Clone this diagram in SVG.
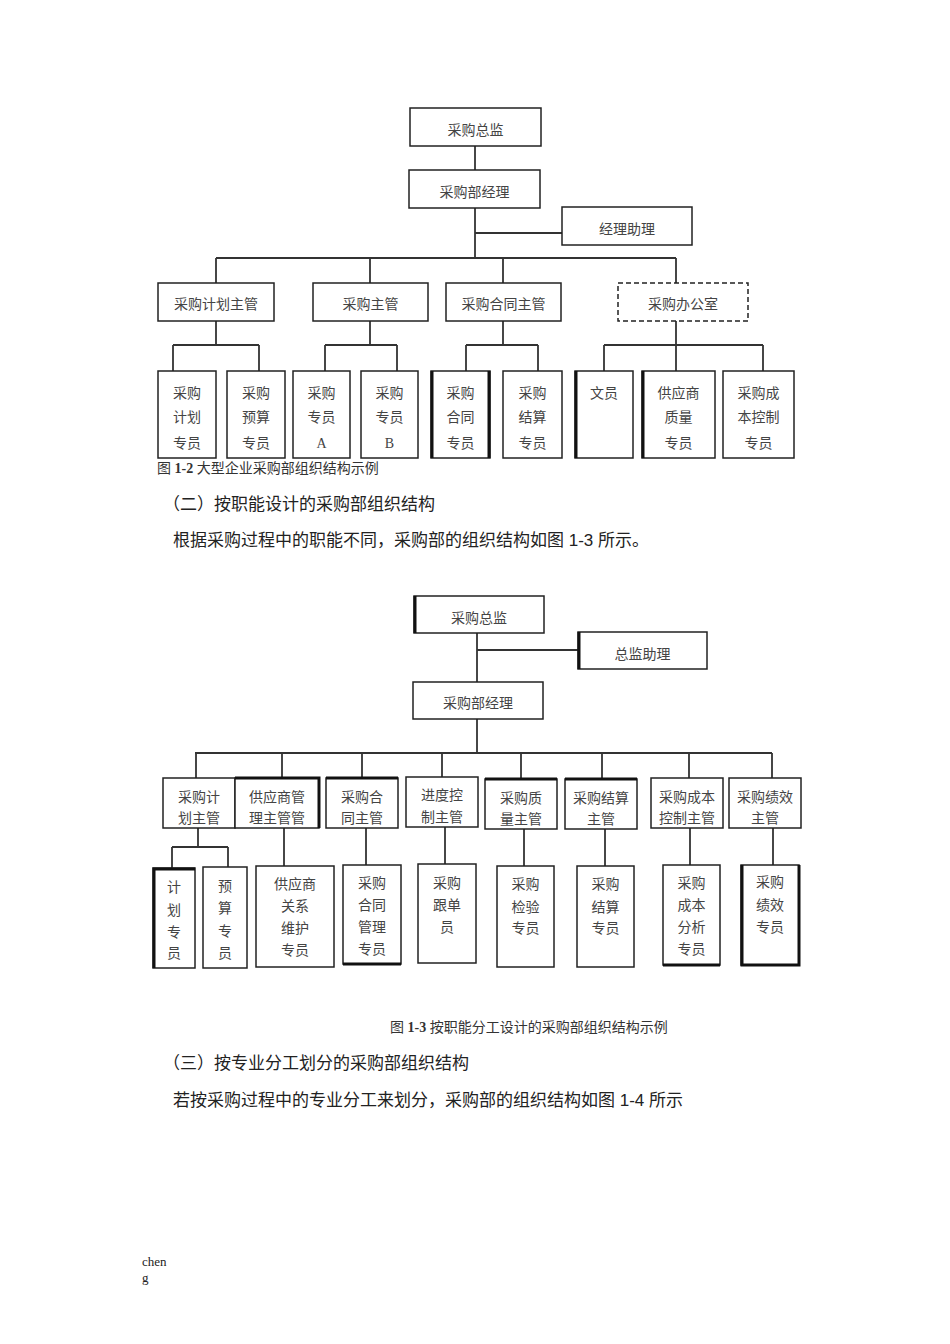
<svg xmlns="http://www.w3.org/2000/svg" width="950" height="1344" viewBox="0 0 950 1344">
<style>
.bg{fill:#fff}
.box{fill:#fff;stroke:#222;stroke-width:1.5}
.dash{fill:#fff;stroke:#222;stroke-width:1.5;stroke-dasharray:5,3}
.thk{stroke:#111;stroke-width:3;fill:none}
.conn path{stroke:#333;stroke-width:1.8;fill:none}
.t{font-family:"Liberation Serif","Noto Sans CJK SC",serif;font-size:14px;fill:#444;text-anchor:middle}
.cap{font-family:"Liberation Serif","Noto Sans CJK SC",serif;font-size:14px;fill:#333}
.body{font-family:"Liberation Sans","Noto Sans CJK SC",sans-serif;font-size:17px;fill:#222}
.foot{font-family:"Liberation Serif",serif;font-size:13px;fill:#222}
</style>
<rect class="bg" x="0" y="0" width="950" height="1344"/>

<!-- ===== Chart 1-2 ===== -->
<g id="connectors1" class="conn">
<path d="M475 146V170"/>
<path d="M475 208V258"/>
<path d="M475 233H562"/>
<path d="M216 258H676"/>
<path d="M216 258V283M370 258V283M503 258V283M676 258V283"/>
<path d="M216 321V345M173 345H259M173 345V371M259 345V371"/>
<path d="M370 321V345M325 345H397M325 345V371M397 345V371"/>
<path d="M503 321V345M466 345H538M466 345V371M538 345V371"/>
<path d="M676 321V371M604 345H763M604 345V371M763 345V371"/>
</g>
<g id="n1_zongjian"><rect class="box" x="410" y="108" width="131" height="38"/><text class="t" x="475.5" y="135">采购总监</text></g>
<g id="n1_jingli"><rect class="box" x="409" y="170" width="131" height="38"/><text class="t" x="474.5" y="197">采购部经理</text></g>
<g id="n1_zhuli"><rect class="box" x="562" y="207" width="130" height="38"/><text class="t" x="627" y="234">经理助理</text></g>
<g id="n1_jihua"><rect class="box" x="158" y="283" width="116" height="38"/><text class="t" x="216" y="309">采购计划主管</text></g>
<g id="n1_zhuguan"><rect class="box" x="313" y="283" width="115" height="38"/><text class="t" x="370.5" y="309">采购主管</text></g>
<g id="n1_hetong"><rect class="box" x="446" y="283" width="115" height="38"/><text class="t" x="503.5" y="309">采购合同主管</text></g>
<g id="n1_bangongshi"><rect class="dash" x="618" y="283" width="130" height="38"/><text class="t" x="683" y="309">采购办公室</text></g>

<g id="n1_jihuazy"><rect class="box" x="158" y="371" width="58" height="87"/><text class="t" x="187" y="398">采购</text><text class="t" x="187" y="422">计划</text><text class="t" x="187" y="448">专员</text></g>
<g id="n1_yusuanzy"><rect class="box" x="227" y="371" width="58" height="87"/><text class="t" x="256" y="398">采购</text><text class="t" x="256" y="422">预算</text><text class="t" x="256" y="448">专员</text></g>
<g id="n1_zyA"><rect class="box" x="293" y="371" width="57" height="87"/><text class="t" x="321.5" y="398">采购</text><text class="t" x="321.5" y="422">专员</text><text class="t" x="321.5" y="448">A</text></g>
<g id="n1_zyB"><rect class="box" x="361" y="371" width="57" height="87"/><text class="t" x="389.5" y="398">采购</text><text class="t" x="389.5" y="422">专员</text><text class="t" x="389.5" y="448">B</text></g>
<g id="n1_hetongzy"><rect class="box" x="431" y="371" width="59" height="87"/><path class="thk" d="M432 371V458M489 371V458"/><text class="t" x="460.5" y="398">采购</text><text class="t" x="460.5" y="422">合同</text><text class="t" x="460.5" y="448">专员</text></g>
<g id="n1_jiesuanzy"><rect class="box" x="503" y="371" width="59" height="87"/><text class="t" x="532.5" y="398">采购</text><text class="t" x="532.5" y="422">结算</text><text class="t" x="532.5" y="448">专员</text></g>
<g id="n1_wenyuan"><rect class="box" x="575" y="371" width="58" height="87"/><path class="thk" d="M576 371V458"/><text class="t" x="604" y="398">文员</text></g>
<g id="n1_zhiliang"><rect class="box" x="642" y="371" width="73" height="87"/><path class="thk" d="M643 371V458"/><text class="t" x="678.5" y="398">供应商</text><text class="t" x="678.5" y="422">质量</text><text class="t" x="678.5" y="448">专员</text></g>
<g id="n1_chengben"><rect class="box" x="723" y="371" width="71" height="87"/><text class="t" x="758.5" y="398">采购成</text><text class="t" x="758.5" y="422">本控制</text><text class="t" x="758.5" y="448">专员</text></g>

<text class="cap" x="157" y="473">图 <tspan font-weight="bold">1-2</tspan> 大型企业采购部组织结构示例</text>

<text class="body" x="163" y="510">（二）按职能设计的采购部组织结构</text>
<text class="body" x="173" y="546">根据采购过程中的职能不同，采购部的组织结构如图 1-3 所示。</text>

<!-- ===== Chart 1-3 ===== -->
<g id="connectors2" class="conn">
<path d="M477 633V682"/>
<path d="M477 650H578"/>
<path d="M477 719V753"/>
<path d="M195 753H772"/>
<path d="M196 753V778M282 753V778M362 753V778M442 753V777M521 753V779M602 753V779M689 753V778M772 753V778"/>
<path d="M198 828V847M172 847H228M172 847V868M228 847V867"/>
<path d="M284 828V866"/>
<path d="M366 828V865"/>
<path d="M445 827V864"/>
<path d="M524 829V866"/>
<path d="M605 829V866"/>
<path d="M690 828V865"/>
<path d="M773 828V865"/>
</g>
<g id="n2_zongjian"><rect class="box" x="414" y="596" width="130" height="37"/><path class="thk" d="M415 596V633"/><text class="t" x="479" y="623">采购总监</text></g>
<g id="n2_zhuli"><rect class="box" x="578" y="632" width="129" height="37"/><path class="thk" d="M579 632V669"/><text class="t" x="642.5" y="659">总监助理</text></g>
<g id="n2_jingli"><rect class="box" x="413" y="682" width="130" height="37"/><text class="t" x="478" y="708">采购部经理</text></g>

<g id="n2_jihua"><rect class="box" x="163" y="778" width="72" height="50"/><text class="t" x="199" y="802">采购计</text><text class="t" x="199" y="823">划主管</text></g>
<g id="n2_gys"><rect class="box" x="235" y="778" width="84" height="50"/><path class="thk" d="M235 778H319V828"/><text class="t" x="277" y="802">供应商管</text><text class="t" x="277" y="823">理主管管</text></g>
<g id="n2_hetong"><rect class="box" x="326" y="778" width="72" height="50"/><path class="thk" d="M326 778H398"/><text class="t" x="362" y="802">采购合</text><text class="t" x="362" y="823">同主管</text></g>
<g id="n2_jindu"><rect class="box" x="406" y="777" width="72" height="50"/><text class="t" x="442" y="800">进度控</text><text class="t" x="442" y="822">制主管</text></g>
<g id="n2_zhiliang"><rect class="box" x="485" y="779" width="72" height="50"/><path class="thk" d="M485 779H557"/><text class="t" x="521" y="803">采购质</text><text class="t" x="521" y="824">量主管</text></g>
<g id="n2_jiesuan"><rect class="box" x="565" y="779" width="72" height="50"/><path class="thk" d="M565 779H637"/><text class="t" x="601" y="803">采购结算</text><text class="t" x="601" y="824">主管</text></g>
<g id="n2_chengben"><rect class="box" x="651" y="778" width="72" height="50"/><text class="t" x="687" y="802">采购成本</text><text class="t" x="687" y="823">控制主管</text></g>
<g id="n2_jixiao"><rect class="box" x="729" y="778" width="72" height="50"/><text class="t" x="765" y="802">采购绩效</text><text class="t" x="765" y="823">主管</text></g>

<g id="n2_jihuazy"><rect class="box" x="153" y="868" width="42" height="100"/><path class="thk" d="M154 968V869H195"/><text class="t" x="174" y="892">计</text><text class="t" x="174" y="915">划</text><text class="t" x="174" y="937">专</text><text class="t" x="174" y="958">员</text></g>
<g id="n2_yusuanzy"><rect class="box" x="203" y="867" width="44" height="101"/><text class="t" x="225" y="891">预</text><text class="t" x="225" y="913">算</text><text class="t" x="225" y="936">专</text><text class="t" x="225" y="958">员</text></g>
<g id="n2_gyszy"><rect class="box" x="256" y="866" width="78" height="101"/><text class="t" x="295" y="889">供应商</text><text class="t" x="295" y="911">关系</text><text class="t" x="295" y="933">维护</text><text class="t" x="295" y="955">专员</text></g>
<g id="n2_hetongzy"><rect class="box" x="343" y="865" width="58" height="99"/><path class="thk" d="M343 964H401"/><text class="t" x="372" y="888">采购</text><text class="t" x="372" y="910">合同</text><text class="t" x="372" y="932">管理</text><text class="t" x="372" y="954">专员</text></g>
<g id="n2_gendan"><rect class="box" x="418" y="864" width="58" height="99"/><text class="t" x="447" y="888">采购</text><text class="t" x="447" y="910">跟单</text><text class="t" x="447" y="932">员</text></g>
<g id="n2_jianyan"><rect class="box" x="497" y="866" width="57" height="101"/><text class="t" x="525.5" y="889">采购</text><text class="t" x="525.5" y="912">检验</text><text class="t" x="525.5" y="933">专员</text></g>
<g id="n2_jiesuanzy"><rect class="box" x="577" y="866" width="57" height="101"/><text class="t" x="605.5" y="889">采购</text><text class="t" x="605.5" y="912">结算</text><text class="t" x="605.5" y="933">专员</text></g>
<g id="n2_chengbenzy"><rect class="box" x="663" y="865" width="57" height="100"/><path class="thk" d="M663 965H720"/><text class="t" x="691.5" y="888">采购</text><text class="t" x="691.5" y="910">成本</text><text class="t" x="691.5" y="932">分析</text><text class="t" x="691.5" y="954">专员</text></g>
<g id="n2_jixiaozy"><rect class="box" x="741" y="865" width="58" height="100"/><path class="thk" d="M742 865V965H799V865"/><text class="t" x="770" y="887">采购</text><text class="t" x="770" y="910">绩效</text><text class="t" x="770" y="932">专员</text></g>

<text class="cap" x="390" y="1032">图 <tspan font-weight="bold">1-3</tspan> 按职能分工设计的采购部组织结构示例</text>

<text class="body" x="163" y="1069">（三）按专业分工划分的采购部组织结构</text>
<text class="body" x="173" y="1106">若按采购过程中的专业分工来划分，采购部的组织结构如图 1-4 所示</text>

<text class="foot" x="142" y="1266">chen</text>
<text class="foot" x="142" y="1282">g</text>
</svg>
